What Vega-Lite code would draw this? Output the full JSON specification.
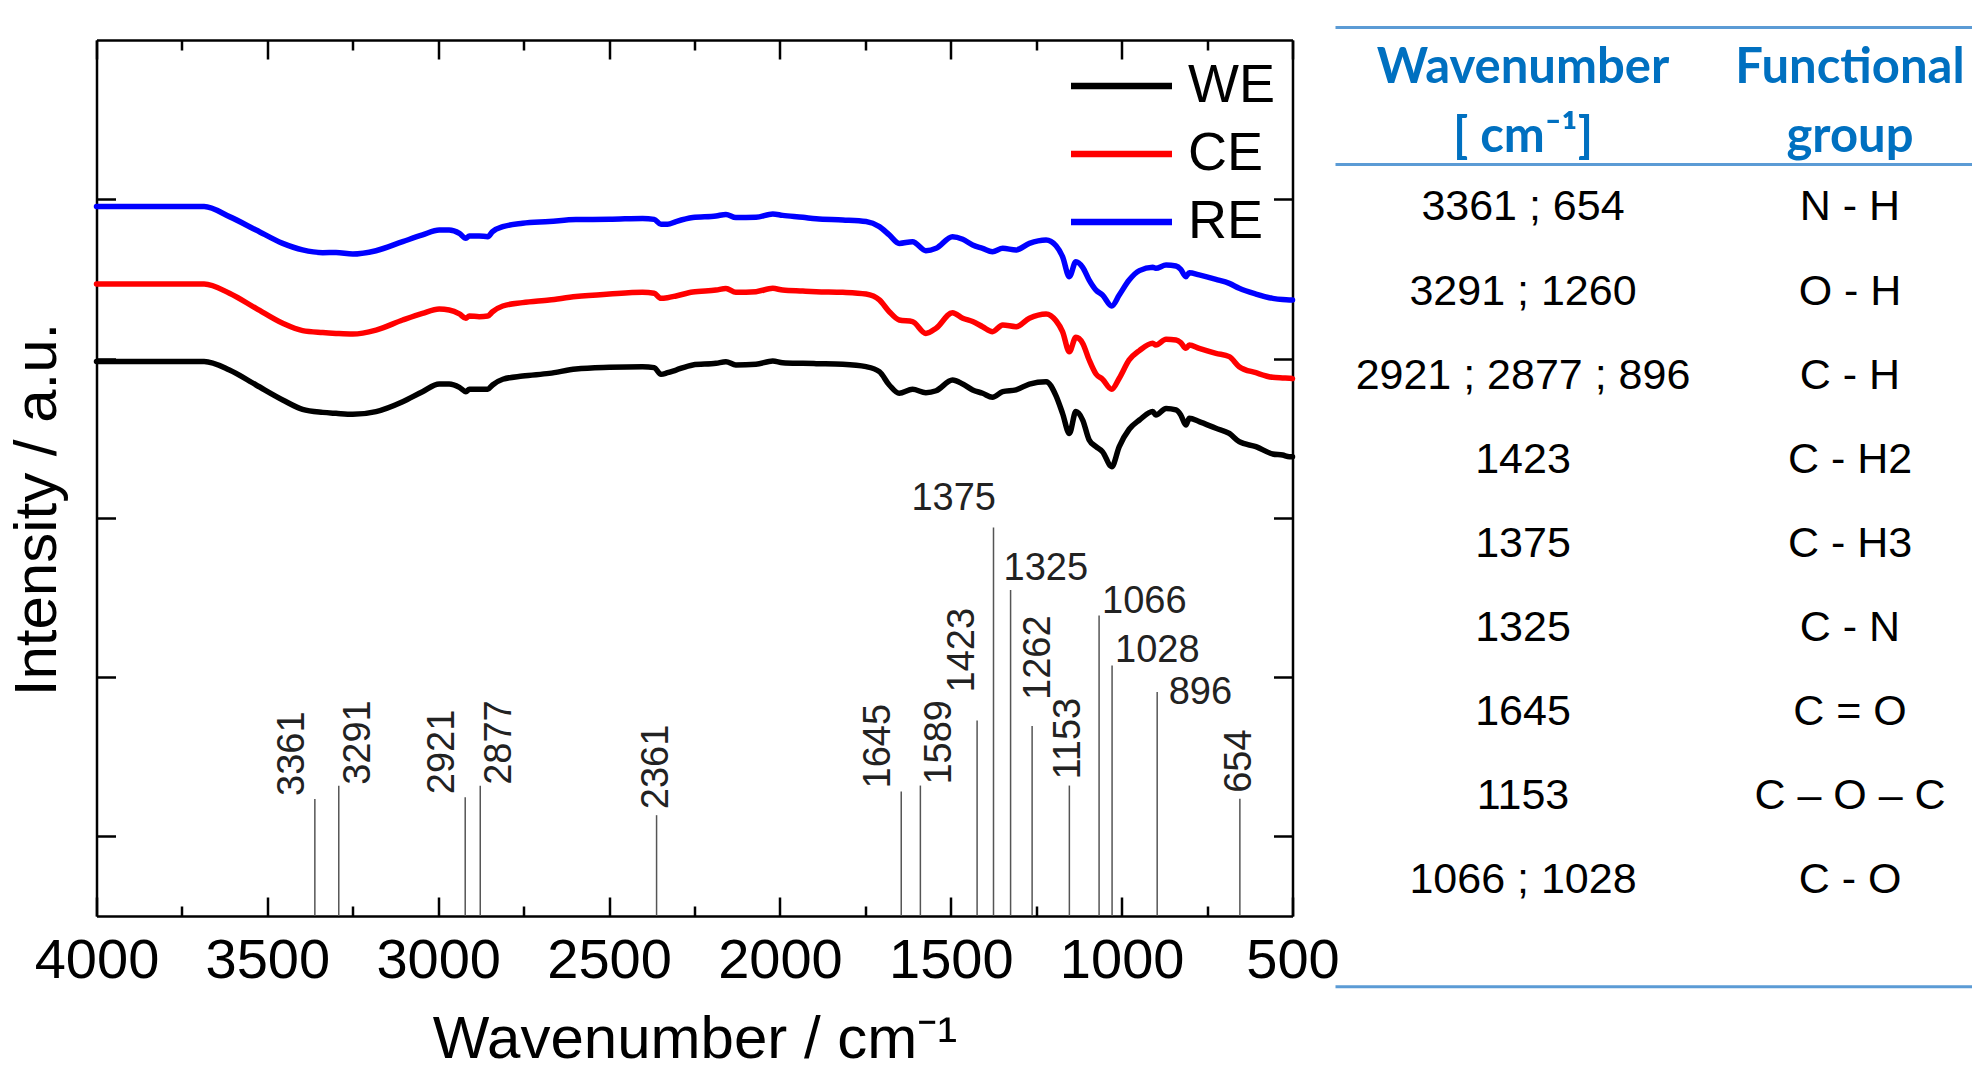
{
  "$schema": "https://vega.github.io/schema/vega-lite/v6.json",
  "background": "white",
  "padding": {"left": 7.5, "top": 26, "right": 0, "bottom": 0},
  "bounds": "flush",
  "spacing": 43,
  "config": {"view": {"stroke": null}, "font": "Liberation Sans"},
  "datasets": {
    "spectra": [
      {"wn":4000,"WE":3.981,"CE":4.468,"RE":4.954},
      {"wn":3685,"WE":3.981,"CE":4.468,"RE":4.954},
      {"wn":3611,"WE":3.928,"CE":4.410,"RE":4.891},
      {"wn":3533,"WE":3.834,"CE":4.315,"RE":4.807},
      {"wn":3455,"WE":3.740,"CE":4.221,"RE":4.723},
      {"wn":3397,"WE":3.681,"CE":4.175,"RE":4.682},
      {"wn":3338,"WE":3.662,"CE":4.163,"RE":4.665},
      {"wn":3299,"WE":3.656,"CE":4.158,"RE":4.666},
      {"wn":3250,"WE":3.650,"CE":4.154,"RE":4.656},
      {"wn":3182,"WE":3.667,"CE":4.179,"RE":4.677},
      {"wn":3104,"WE":3.729,"CE":4.242,"RE":4.734},
      {"wn":3046,"WE":3.792,"CE":4.284,"RE":4.776},
      {"wn":2997,"WE":3.840,"CE":4.311,"RE":4.807},
      {"wn":2968,"WE":3.840,"CE":4.305,"RE":4.807},
      {"wn":2938,"WE":3.819,"CE":4.280,"RE":4.786},
      {"wn":2919,"WE":3.792,"CE":4.253,"RE":4.755},
      {"wn":2909,"WE":3.807,"CE":4.267,"RE":4.770},
      {"wn":2880,"WE":3.807,"CE":4.263,"RE":4.770},
      {"wn":2855,"WE":3.807,"CE":4.267,"RE":4.765},
      {"wn":2841,"WE":3.834,"CE":4.294,"RE":4.797},
      {"wn":2811,"WE":3.870,"CE":4.330,"RE":4.828},
      {"wn":2753,"WE":3.890,"CE":4.351,"RE":4.849},
      {"wn":2675,"WE":3.907,"CE":4.368,"RE":4.860},
      {"wn":2597,"WE":3.934,"CE":4.389,"RE":4.873},
      {"wn":2499,"WE":3.945,"CE":4.405,"RE":4.874},
      {"wn":2402,"WE":3.949,"CE":4.416,"RE":4.880},
      {"wn":2368,"WE":3.943,"CE":4.410,"RE":4.874},
      {"wn":2348,"WE":3.901,"CE":4.378,"RE":4.843},
      {"wn":2329,"WE":3.911,"CE":4.382,"RE":4.843},
      {"wn":2304,"WE":3.928,"CE":4.393,"RE":4.860},
      {"wn":2255,"WE":3.960,"CE":4.418,"RE":4.885},
      {"wn":2187,"WE":3.970,"CE":4.430,"RE":4.895},
      {"wn":2158,"WE":3.980,"CE":4.440,"RE":4.905},
      {"wn":2129,"WE":3.960,"CE":4.416,"RE":4.885},
      {"wn":2070,"WE":3.964,"CE":4.420,"RE":4.887},
      {"wn":2021,"WE":3.985,"CE":4.441,"RE":4.908},
      {"wn":1992,"WE":3.974,"CE":4.430,"RE":4.899},
      {"wn":1933,"WE":3.970,"CE":4.424,"RE":4.887},
      {"wn":1894,"WE":3.968,"CE":4.420,"RE":4.877},
      {"wn":1816,"WE":3.964,"CE":4.416,"RE":4.870},
      {"wn":1748,"WE":3.949,"CE":4.405,"RE":4.860},
      {"wn":1709,"WE":3.918,"CE":4.368,"RE":4.828},
      {"wn":1680,"WE":3.834,"CE":4.294,"RE":4.776},
      {"wn":1651,"WE":3.782,"CE":4.242,"RE":4.723},
      {"wn":1612,"WE":3.807,"CE":4.232,"RE":4.734},
      {"wn":1573,"WE":3.786,"CE":4.158,"RE":4.677},
      {"wn":1543,"WE":3.798,"CE":4.190,"RE":4.692},
      {"wn":1495,"WE":3.865,"CE":4.288,"RE":4.765},
      {"wn":1465,"WE":3.840,"CE":4.253,"RE":4.749},
      {"wn":1436,"WE":3.803,"CE":4.232,"RE":4.713},
      {"wn":1407,"WE":3.782,"CE":4.200,"RE":4.692},
      {"wn":1378,"WE":3.757,"CE":4.169,"RE":4.671},
      {"wn":1348,"WE":3.792,"CE":4.211,"RE":4.692},
      {"wn":1309,"WE":3.803,"CE":4.200,"RE":4.682},
      {"wn":1270,"WE":3.840,"CE":4.253,"RE":4.723},
      {"wn":1221,"WE":3.855,"CE":4.280,"RE":4.744},
      {"wn":1192,"WE":3.766,"CE":4.237,"RE":4.708},
      {"wn":1173,"WE":3.656,"CE":4.169,"RE":4.640},
      {"wn":1153,"WE":3.530,"CE":4.043,"RE":4.514},
      {"wn":1134,"WE":3.667,"CE":4.133,"RE":4.608},
      {"wn":1114,"WE":3.614,"CE":4.096,"RE":4.573},
      {"wn":1095,"WE":3.489,"CE":3.991,"RE":4.493},
      {"wn":1075,"WE":3.447,"CE":3.903,"RE":4.430},
      {"wn":1056,"WE":3.415,"CE":3.870,"RE":4.399},
      {"wn":1029,"WE":3.321,"CE":3.807,"RE":4.330},
      {"wn":1007,"WE":3.447,"CE":3.876,"RE":4.399},
      {"wn":978,"WE":3.556,"CE":3.991,"RE":4.493},
      {"wn":948,"WE":3.614,"CE":4.050,"RE":4.552},
      {"wn":909,"WE":3.667,"CE":4.096,"RE":4.573},
      {"wn":900,"WE":3.646,"CE":4.085,"RE":4.567},
      {"wn":870,"WE":3.687,"CE":4.121,"RE":4.587},
      {"wn":841,"WE":3.677,"CE":4.117,"RE":4.581},
      {"wn":827,"WE":3.646,"CE":4.100,"RE":4.560},
      {"wn":812,"WE":3.583,"CE":4.064,"RE":4.514},
      {"wn":802,"WE":3.625,"CE":4.085,"RE":4.539},
      {"wn":773,"WE":3.604,"CE":4.064,"RE":4.525},
      {"wn":724,"WE":3.562,"CE":4.033,"RE":4.497},
      {"wn":685,"WE":3.530,"CE":4.012,"RE":4.472},
      {"wn":656,"WE":3.478,"CE":3.949,"RE":4.441},
      {"wn":607,"WE":3.447,"CE":3.911,"RE":4.405},
      {"wn":558,"WE":3.401,"CE":3.882,"RE":4.378},
      {"wn":529,"WE":3.394,"CE":3.878,"RE":4.370},
      {"wn":509,"WE":3.384,"CE":3.876,"RE":4.368},
      {"wn":500,"WE":3.384,"CE":3.874,"RE":4.368}
    ],
    "peaks": [
      {"wn":3361,"h":1.235},
      {"wn":3291,"h":1.317},
      {"wn":2921,"h":1.246},
      {"wn":2877,"h":1.317},
      {"wn":2361,"h":1.133},
      {"wn":1645,"h":1.282},
      {"wn":1589,"h":1.319},
      {"wn":1423,"h":1.728},
      {"wn":1375,"h":2.939},
      {"wn":1325,"h":2.547},
      {"wn":1262,"h":1.693},
      {"wn":1153,"h":1.319},
      {"wn":1066,"h":2.386},
      {"wn":1028,"h":2.073},
      {"wn":896,"h":1.907},
      {"wn":654,"h":1.236}
    ],
    "header": [
      {"col":"wavenumber","label":"Wavenumber\n[ cm⁻¹]"},
      {"col":"group","label":"Functional\ngroup"}
    ],
    "table": [
      {"row":1,"wavenumber":"3361 ; 654","group":"N - H"},
      {"row":2,"wavenumber":"3291 ; 1260","group":"O - H"},
      {"row":3,"wavenumber":"2921 ; 2877 ; 896","group":"C - H"},
      {"row":4,"wavenumber":"1423","group":"C -  H2"},
      {"row":5,"wavenumber":"1375","group":"C - H3"},
      {"row":6,"wavenumber":"1325","group":"C - N"},
      {"row":7,"wavenumber":"1645","group":"C = O"},
      {"row":8,"wavenumber":"1153","group":"C – O – C"},
      {"row":9,"wavenumber":"1066 ; 1028","group":"C - O"}
    ]
  },
  "hconcat": [
    {
      "width": 1196,
      "height": 876,
      "resolve": {"axis": {"x": "independent", "y": "independent"}},
      "layer": [
        {
          "data": {"name": "spectra"},
          "transform": [{"fold": ["WE", "CE", "RE"], "as": ["series", "intensity"]}],
          "mark": {"type": "line", "strokeWidth": 5.5, "interpolate": "monotone", "strokeJoin": "round", "strokeCap": "round"},
          "encoding": {
            "x": {
              "field": "wn", "type": "quantitative",
              "scale": {"domain": [500, 4000], "reverse": true, "nice": false, "zero": false},
              "axis": {
                "orient": "bottom",
                "values": [500, 750, 1000, 1250, 1500, 1750, 2000, 2250, 2500, 2750, 3000, 3250, 3500, 3750, 4000],
                "format": "d",
                "labelExpr": "datum.value % 500 === 0 ? datum.label : ''",
                "labelFont": "Liberation Sans", "labelFontSize": 56, "labelColor": "black",
                "labelPadding": 36, "labelFlush": false, "labelOverlap": false, "labelBound": false,
                "tickSize": {"condition": {"test": "datum.value % 500 === 0", "value": -19}, "value": -10},
                "tickColor": "black", "tickWidth": 2.5,
                "domainColor": "black", "domainWidth": 2.5,
                "grid": false,
                "title": "Wavenumber / cm⁻¹",
                "titleFont": "Liberation Sans", "titleFontSize": 60, "titleFontWeight": "normal", "titleColor": "black",
                "titleY": 141, "titleBaseline": "alphabetic"
              }
            },
            "y": {
              "field": "intensity", "type": "quantitative",
              "scale": {"domain": [0.5, 6], "nice": false, "zero": false},
              "axis": {
                "orient": "left", "values": [1, 2, 3, 4, 5], "labels": false,
                "tickSize": -19, "tickColor": "black", "tickWidth": 2.5,
                "domainColor": "black", "domainWidth": 2.5, "grid": false,
                "title": "Intensity / a.u.",
                "titleFont": "Liberation Sans", "titleFontSize": 60, "titleFontWeight": "normal", "titleColor": "black",
                "titleAngle": 270, "titleX": -41, "titleY": 469, "titleAlign": "center", "titleBaseline": "alphabetic"
              }
            },
            "color": {
              "field": "series", "type": "nominal",
              "scale": {"domain": ["WE", "CE", "RE"], "range": ["#000000", "#ff0000", "#0000ff"]},
              "legend": {
                "orient": "none", "legendX": 972, "legendY": 19, "title": null, "padding": 0,
                "symbolType": "M-2.5,0H2.5", "symbolSize": 1632, "symbolStrokeWidth": 6.5,
                "symbolOffset": 26, "labelOffset": 39.5,
                "labelFont": "Liberation Sans", "labelFontSize": 54, "labelColor": "black",
                "rowPadding": 14
              }
            }
          }
        },
        {
          "data": {"name": "peaks"},
          "mark": {"type": "rule", "color": "#555555", "strokeWidth": 1.5},
          "encoding": {
            "x": {
              "field": "wn", "type": "quantitative",
              "scale": {"domain": [500, 4000], "reverse": true, "nice": false, "zero": false},
              "axis": {
                "orient": "top",
                "values": [500, 750, 1000, 1250, 1500, 1750, 2000, 2250, 2500, 2750, 3000, 3250, 3500, 3750, 4000],
                "labels": false,
                "tickSize": {"condition": {"test": "datum.value % 500 === 0", "value": -19}, "value": -10},
                "tickColor": "black", "tickWidth": 2.5,
                "domainColor": "black", "domainWidth": 2.5, "grid": false, "title": null
              }
            },
            "y": {
              "field": "h", "type": "quantitative",
              "scale": {"domain": [0.5, 6], "nice": false, "zero": false},
              "axis": {
                "orient": "right", "values": [1, 2, 3, 4, 5], "labels": false,
                "tickSize": -19, "tickColor": "black", "tickWidth": 2.5,
                "domainColor": "black", "domainWidth": 2.5, "grid": false, "title": null
              }
            },
            "y2": {"datum": 0.5}
          }
        },
        {
          "data": {"name": "peaks"},
          "transform": [{"filter": {"field": "wn", "oneOf": [3361, 2921, 1645]}}],
          "mark": {"type": "text", "font": "Liberation Sans", "fontSize": 38, "color": "#222222", "angle": 270, "align": "left", "baseline": "alphabetic", "dx": 3, "dy": -11},
          "encoding": {
            "x": {"field": "wn", "type": "quantitative", "scale": {"domain": [500, 4000], "reverse": true, "nice": false, "zero": false}, "axis": null},
            "y": {"field": "h", "type": "quantitative", "scale": {"domain": [0.5, 6], "nice": false, "zero": false}, "axis": null},
            "text": {"field": "wn", "type": "quantitative", "format": "d"}
          }
        },
        {
          "data": {"name": "peaks"},
          "transform": [{"filter": {"field": "wn", "oneOf": [3291, 2877, 1589]}}],
          "mark": {"type": "text", "font": "Liberation Sans", "fontSize": 38, "color": "#222222", "angle": 270, "align": "left", "baseline": "alphabetic", "dx": 1, "dy": 31},
          "encoding": {
            "x": {"field": "wn", "type": "quantitative", "scale": {"domain": [500, 4000], "reverse": true, "nice": false, "zero": false}, "axis": null},
            "y": {"field": "h", "type": "quantitative", "scale": {"domain": [0.5, 6], "nice": false, "zero": false}, "axis": null},
            "text": {"field": "wn", "type": "quantitative", "format": "d"}
          }
        },
        {
          "data": {"name": "peaks"},
          "transform": [{"filter": {"field": "wn", "oneOf": [2361, 1153, 654]}}],
          "mark": {"type": "text", "font": "Liberation Sans", "fontSize": 38, "color": "#222222", "angle": 270, "align": "left", "baseline": "middle", "dx": 6, "dy": 0},
          "encoding": {
            "x": {"field": "wn", "type": "quantitative", "scale": {"domain": [500, 4000], "reverse": true, "nice": false, "zero": false}, "axis": null},
            "y": {"field": "h", "type": "quantitative", "scale": {"domain": [0.5, 6], "nice": false, "zero": false}, "axis": null},
            "text": {"field": "wn", "type": "quantitative", "format": "d"}
          }
        },
        {
          "data": {"name": "peaks"},
          "transform": [{"filter": {"field": "wn", "equal": 1423}}],
          "mark": {"type": "text", "font": "Liberation Sans", "fontSize": 38, "color": "#222222", "angle": 270, "align": "left", "baseline": "alphabetic", "dx": 28, "dy": -3},
          "encoding": {
            "x": {"field": "wn", "type": "quantitative", "scale": {"domain": [500, 4000], "reverse": true, "nice": false, "zero": false}, "axis": null},
            "y": {"field": "h", "type": "quantitative", "scale": {"domain": [0.5, 6], "nice": false, "zero": false}, "axis": null},
            "text": {"field": "wn", "type": "quantitative", "format": "d"}
          }
        },
        {
          "data": {"name": "peaks"},
          "transform": [{"filter": {"field": "wn", "equal": 1262}}],
          "mark": {"type": "text", "font": "Liberation Sans", "fontSize": 38, "color": "#222222", "angle": 270, "align": "left", "baseline": "middle", "dx": 26, "dy": 6.5},
          "encoding": {
            "x": {"field": "wn", "type": "quantitative", "scale": {"domain": [500, 4000], "reverse": true, "nice": false, "zero": false}, "axis": null},
            "y": {"field": "h", "type": "quantitative", "scale": {"domain": [0.5, 6], "nice": false, "zero": false}, "axis": null},
            "text": {"field": "wn", "type": "quantitative", "format": "d"}
          }
        },
        {
          "data": {"name": "peaks"},
          "transform": [{"filter": {"field": "wn", "equal": 1375}}],
          "mark": {"type": "text", "font": "Liberation Sans", "fontSize": 38, "color": "#222222", "align": "right", "baseline": "alphabetic", "dx": 2.5, "dy": -17.6},
          "encoding": {
            "x": {"field": "wn", "type": "quantitative", "scale": {"domain": [500, 4000], "reverse": true, "nice": false, "zero": false}, "axis": null},
            "y": {"field": "h", "type": "quantitative", "scale": {"domain": [0.5, 6], "nice": false, "zero": false}, "axis": null},
            "text": {"field": "wn", "type": "quantitative", "format": "d"}
          }
        },
        {
          "data": {"name": "peaks"},
          "transform": [{"filter": {"field": "wn", "equal": 1325}}],
          "mark": {"type": "text", "font": "Liberation Sans", "fontSize": 38, "color": "#222222", "align": "left", "baseline": "alphabetic", "dx": -7, "dy": -10},
          "encoding": {
            "x": {"field": "wn", "type": "quantitative", "scale": {"domain": [500, 4000], "reverse": true, "nice": false, "zero": false}, "axis": null},
            "y": {"field": "h", "type": "quantitative", "scale": {"domain": [0.5, 6], "nice": false, "zero": false}, "axis": null},
            "text": {"field": "wn", "type": "quantitative", "format": "d"}
          }
        },
        {
          "data": {"name": "peaks"},
          "transform": [{"filter": {"field": "wn", "oneOf": [1066, 1028]}}],
          "mark": {"type": "text", "font": "Liberation Sans", "fontSize": 38, "color": "#222222", "align": "left", "baseline": "alphabetic", "dx": 3, "dy": -3},
          "encoding": {
            "x": {"field": "wn", "type": "quantitative", "scale": {"domain": [500, 4000], "reverse": true, "nice": false, "zero": false}, "axis": null},
            "y": {"field": "h", "type": "quantitative", "scale": {"domain": [0.5, 6], "nice": false, "zero": false}, "axis": null},
            "text": {"field": "wn", "type": "quantitative", "format": "d"}
          }
        },
        {
          "data": {"name": "peaks"},
          "transform": [{"filter": {"field": "wn", "equal": 896}}],
          "mark": {"type": "text", "font": "Liberation Sans", "fontSize": 38, "color": "#222222", "align": "left", "baseline": "alphabetic", "dx": 11.5, "dy": 12},
          "encoding": {
            "x": {"field": "wn", "type": "quantitative", "scale": {"domain": [500, 4000], "reverse": true, "nice": false, "zero": false}, "axis": null},
            "y": {"field": "h", "type": "quantitative", "scale": {"domain": [0.5, 6], "nice": false, "zero": false}, "axis": null},
            "text": {"field": "wn", "type": "quantitative", "format": "d"}
          }
        }
      ]
    },
    {
      "width": 636.5,
      "height": 876,
      "layer": [
        {
          "data": {"values": [{}]},
          "mark": {"type": "rule", "color": "#5B9BD5", "strokeWidth": 3},
          "encoding": {"y": {"datum": -1.295, "type": "quantitative", "scale": {"domain": [-1.1465, 9.2709], "reverse": true, "nice": false, "zero": false}, "axis": null}}
        },
        {
          "data": {"values": [{}]},
          "mark": {"type": "rule", "color": "#5B9BD5", "strokeWidth": 3},
          "encoding": {"y": {"datum": 0.335, "type": "quantitative", "scale": {"domain": [-1.1465, 9.2709], "reverse": true, "nice": false, "zero": false}, "axis": null}}
        },
        {
          "data": {"values": [{}]},
          "mark": {"type": "rule", "color": "#5B9BD5", "strokeWidth": 3},
          "encoding": {"y": {"datum": 10.113, "type": "quantitative", "scale": {"domain": [-1.1465, 9.2709], "reverse": true, "nice": false, "zero": false}, "axis": null}}
        },
        {
          "data": {"name": "header"},
          "mark": {"type": "text", "font": "Lato", "fontWeight": "bold", "fontSize": 49, "color": "#0070C0", "align": "center", "baseline": "alphabetic", "lineBreak": "\n", "lineHeight": 69},
          "encoding": {
            "x": {"field": "col", "type": "nominal", "scale": {"type": "point", "domain": ["wavenumber", "group"], "range": [187.5, 514.5], "padding": 0}, "axis": null},
            "y": {"datum": -0.64, "type": "quantitative", "scale": {"domain": [-1.1465, 9.2709], "reverse": true, "nice": false, "zero": false}, "axis": null},
            "text": {"field": "label", "type": "nominal"}
          }
        },
        {
          "data": {"name": "table"},
          "transform": [{"fold": ["wavenumber", "group"], "as": ["col", "label"]}],
          "mark": {"type": "text", "font": "Liberation Sans", "fontSize": 43, "color": "black", "align": "center", "baseline": "alphabetic"},
          "encoding": {
            "x": {"field": "col", "type": "nominal", "scale": {"type": "point", "domain": ["wavenumber", "group"], "range": [187.5, 514.5], "padding": 0}, "axis": null},
            "y": {"field": "row", "type": "quantitative", "scale": {"domain": [-1.1465, 9.2709], "reverse": true, "nice": false, "zero": false}, "axis": null},
            "text": {"field": "label", "type": "nominal"}
          }
        }
      ]
    }
  ]
}
